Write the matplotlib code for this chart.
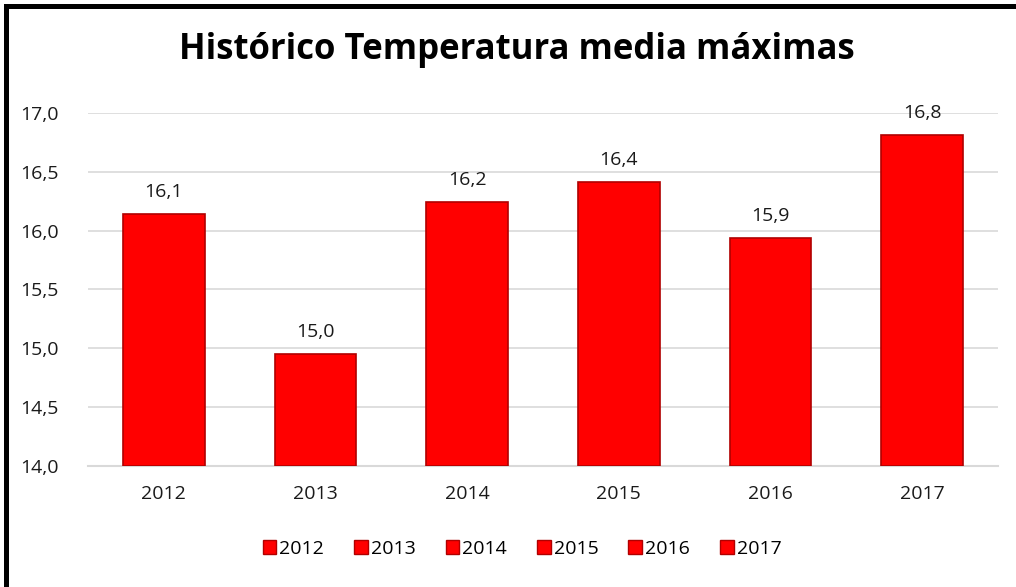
import matplotlib
matplotlib.use("Agg")
import matplotlib.pyplot as plt
from matplotlib.patches import Patch, Rectangle

years = ["2012", "2013", "2014", "2015", "2016", "2017"]
values = [16.14, 14.95, 16.24, 16.41, 15.94, 16.81]
labels = ["16,1", "15,0", "16,2", "16,4", "15,9", "16,8"]
yticks = [14.0, 14.5, 15.0, 15.5, 16.0, 16.5, 17.0]
ytick_labels = ["14,0", "14,5", "15,0", "15,5", "16,0", "16,5", "17,0"]
title = "Histórico Temperatura media máximas"

plt.rcParams['font.family'] = ['Open Sans', 'DejaVu Sans']
W, H = 1016, 587

fig = plt.figure(figsize=(W/100, H/100), dpi=100)
ax = fig.add_axes([88/W, 1-466/H, (998-88)/W, (466-113)/H])

x = list(range(len(years)))
ax.bar(x, [v - 14.0 for v in values], bottom=14.0, width=0.54,
       color="#FF0000", edgecolor="#B00000", linewidth=1.2, zorder=3)
for xi, v, lab in zip(x, values, labels):
    ax.text(xi, v + 0.11, lab, ha="center", va="bottom", fontsize=14, color="#1a1a1a", zorder=4)

ax.set_xlim(-0.5, len(years) - 0.5)
ax.set_ylim(14.0, 17.0)
ax.set_yticks(yticks)
ax.set_yticklabels(ytick_labels, fontsize=14)
ax.set_xticks(x)
ax.set_xticklabels(years, fontsize=14)
ax.tick_params(axis="both", length=0, colors="#1a1a1a")
ax.tick_params(axis="y", pad=21)
ax.tick_params(axis="x", pad=14)
ax.grid(axis="y", color="#D9D9D9", linewidth=1.2, zorder=0)
for s in ["top", "right", "left"]:
    ax.spines[s].set_visible(False)
ax.spines["bottom"].set_color("#D9D9D9")
ax.spines["bottom"].set_linewidth(1.5)

fig.text(517/W, 1 - 50/H, title, ha="center", va="center", fontsize=25, fontweight="bold", color="black")

handles = [Patch(facecolor="#FF0000", edgecolor="#B00000", label=y) for y in years]
fig.legend(handles=handles, loc="center", bbox_to_anchor=(522/W, 1 - 549/H), ncol=6, frameon=False,
           fontsize=14, handlelength=0.7, handleheight=0.7, handletextpad=0.15, columnspacing=1.55)

# left and top border
fig.patches.append(Rectangle((4/W, 0), 5/W, 1 - 4/H, transform=fig.transFigure,
                             facecolor="black", edgecolor="none"))
fig.patches.append(Rectangle((4/W, 1 - 9/H), 1 - 4/W, 5/H, transform=fig.transFigure,
                             facecolor="black", edgecolor="none"))

fig.savefig("out.png", dpi=100, facecolor="white")
